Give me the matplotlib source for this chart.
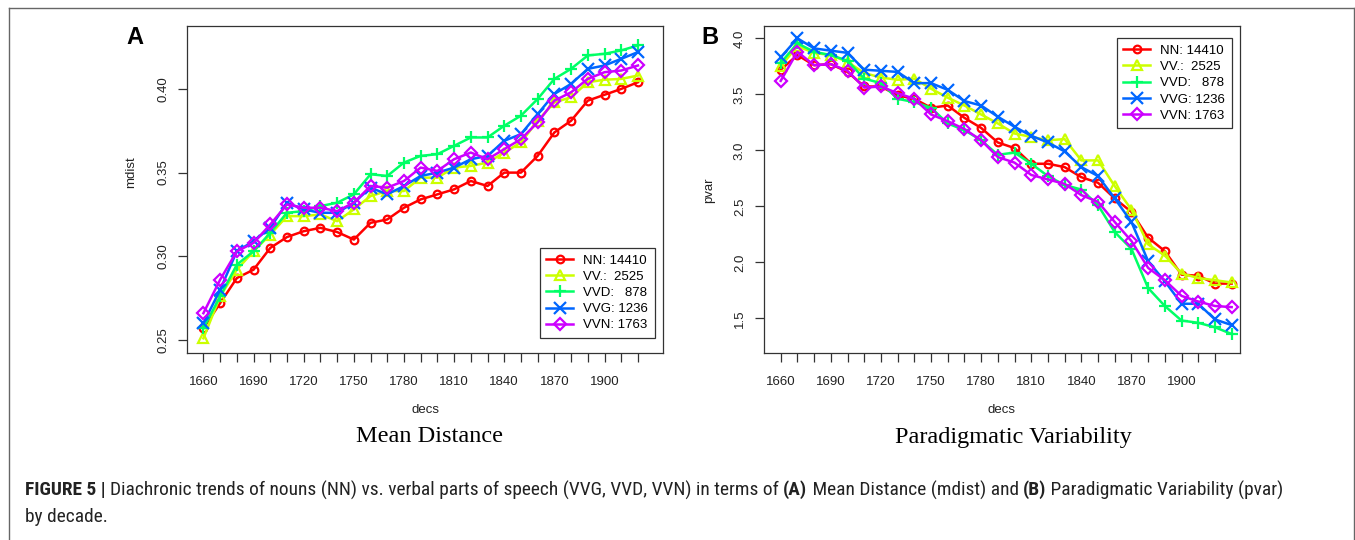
import matplotlib
matplotlib.use("Agg")
import matplotlib.pyplot as plt
from matplotlib.lines import Line2D
from matplotlib import font_manager

# ---------------- data ----------------
decades_A = list(range(1660, 1921, 10))   # 27 decades
decades_B = list(range(1660, 1931, 10))   # 28 decades

series_names = ["NN: 14410", "VV.:  2525", "VVD:   878", "VVG: 1236", "VVN: 1763"]

mdist_NN  = [0.257, 0.272, 0.287, 0.292, 0.305, 0.3115, 0.315, 0.317, 0.3145, 0.310, 0.320, 0.322, 0.329, 0.334,
             0.337, 0.340, 0.345, 0.342, 0.350, 0.350, 0.360, 0.374, 0.381, 0.393, 0.3965, 0.400, 0.404]
mdist_VV  = [0.251, 0.276, 0.292, 0.303, 0.313, 0.324, 0.324, 0.325, 0.321, 0.328, 0.336, 0.339, 0.339, 0.347,
             0.347, 0.353, 0.354, 0.356, 0.362, 0.368, 0.381, 0.392, 0.395, 0.404, 0.4055, 0.406, 0.408]
mdist_VVD = [0.257, 0.276, 0.295, 0.303, 0.314, 0.326, 0.327, 0.330, 0.332, 0.337, 0.349, 0.348, 0.356, 0.360,
             0.361, 0.366, 0.371, 0.371, 0.378, 0.384, 0.394, 0.406, 0.412, 0.420, 0.421, 0.423, 0.426]
mdist_VVG = [0.260, 0.280, 0.303, 0.309, 0.317, 0.332, 0.328, 0.326, 0.326, 0.332, 0.341, 0.337, 0.342, 0.348,
             0.350, 0.353, 0.358, 0.360, 0.369, 0.373, 0.385, 0.397, 0.403, 0.412, 0.414, 0.418, 0.422]
mdist_VVN = [0.266, 0.286, 0.303, 0.308, 0.319, 0.331, 0.329, 0.329, 0.327, 0.332, 0.342, 0.341, 0.345, 0.353,
             0.351, 0.358, 0.362, 0.358, 0.364, 0.370, 0.380, 0.393, 0.398, 0.406, 0.410, 0.411, 0.414]

pvar_NN  = [3.72, 3.85, 3.76, 3.77, 3.70, 3.57, 3.57, 3.49, 3.46, 3.38, 3.40, 3.29, 3.20, 3.07,
            3.02, 2.88, 2.88, 2.85, 2.76, 2.71, 2.57, 2.45, 2.22, 2.10, 1.89, 1.88, 1.81, 1.81]
pvar_VV  = [3.75, 3.93, 3.87, 3.85, 3.79, 3.69, 3.65, 3.63, 3.64, 3.55, 3.47, 3.40, 3.32, 3.24,
            3.15, 3.12, 3.09, 3.10, 2.91, 2.91, 2.68, 2.47, 2.16, 2.06, 1.90, 1.86, 1.84, 1.82]
pvar_VVD = [3.78, 3.955, 3.88, 3.85, 3.80, 3.64, 3.60, 3.46, 3.43, 3.38, 3.24, 3.18, 3.09, 2.96,
            2.98, 2.88, 2.77, 2.69, 2.65, 2.51, 2.27, 2.12, 1.77, 1.61, 1.48, 1.46, 1.42, 1.36]
pvar_VVG = [3.83, 4.00, 3.91, 3.89, 3.87, 3.72, 3.71, 3.70, 3.60, 3.60, 3.54, 3.44, 3.40, 3.30,
            3.21, 3.13, 3.07, 2.99, 2.85, 2.77, 2.57, 2.36, 2.01, 1.83, 1.63, 1.63, 1.49, 1.44]
pvar_VVN = [3.62, 3.88, 3.76, 3.77, 3.71, 3.56, 3.57, 3.51, 3.46, 3.32, 3.26, 3.19, 3.09, 2.94,
            2.89, 2.78, 2.74, 2.70, 2.60, 2.54, 2.36, 2.19, 1.95, 1.84, 1.70, 1.65, 1.61, 1.60]

xtick_minor = list(range(1660, 1921, 10))
xtick_labels = list(range(1660, 1901, 30))
ytick_A = [0.25, 0.30, 0.35, 0.40]
ytick_B = [1.5, 2.0, 2.5, 3.0, 3.5, 4.0]

# ---------------- style ----------------
colors = ["#FF0000", "#CCFF00", "#00FF66", "#0066FF", "#CC00FF"]
markers = ["o", "^", "+", "x", "D"]
msizes = [5.5, 7, 9, 8, 6.5]

W, H = 1355, 540
fig = plt.figure(figsize=(W / 100, H / 100), dpi=100)
fig.patch.set_facecolor("white")
SANS = ["Liberation Sans", "DejaVu Sans"]
SERIF = ["Liberation Serif", "DejaVu Serif"]
plt.rcParams["font.family"] = SANS

def fx(px):
    return px / W

def fy(py):
    return 1 - py / H

def make_axes(left, right, top, bottom):
    return fig.add_axes([fx(left), fy(bottom), fx(right) - fx(left), fy(top) - fy(bottom)])

axA = make_axes(186.7, 663, 26, 352.7)
axB = make_axes(764, 1240, 26, 352.7)

def draw(ax, xs, data):
    handles = []
    for vals, c, m, ms, name in zip(data, colors, markers, msizes, series_names):
        mfc = "none" if m in ("o", "^", "D") else c
        h, = ax.plot(xs, vals, color=c, lw=1.8, marker=m, markersize=ms,
                     markerfacecolor=mfc, markeredgecolor=c, markeredgewidth=1.6,
                     label=name)
        handles.append(h)
    return handles

hA = draw(axA, decades_A, [mdist_NN, mdist_VV, mdist_VVD, mdist_VVG, mdist_VVN])
hB = draw(axB, decades_B, [pvar_NN, pvar_VV, pvar_VVD, pvar_VVG, pvar_VVN])

def style(ax, yticks, fmt, ylim, ypad):
    ax.set_xlim(1650, 1935)
    ax.set_ylim(*ylim)
    ax.set_xticks(xtick_minor)
    ax.set_xticklabels([str(d) if d in xtick_labels else "" for d in xtick_minor])
    ax.set_yticks(yticks)
    ax.set_yticklabels([fmt.format(v) for v in yticks], rotation=90, va="center")
    ax.tick_params(axis="both", direction="out", length=6.5, width=0.9, color="#333333",
                   labelsize=9.5, labelcolor="#222222")
    ax.tick_params(axis="x", pad=10)
    ax.tick_params(axis="y", pad=ypad)
    for s in ax.spines.values():
        s.set_color("#333333")
        s.set_linewidth(0.9)

style(axA, ytick_A, "{:.2f}", (0.2424, 0.4376), 6)
style(axB, ytick_B, "{:.1f}", (1.193, 4.11), 6.5)

def legend(ax, handles, loc, anchor):
    lg = ax.legend(handles=handles, loc=loc, bbox_to_anchor=anchor, fontsize=9.5,
                   frameon=True, fancybox=False, edgecolor="#333333", framealpha=1,
                   borderpad=0.5, labelspacing=0.3, handlelength=2.0, handletextpad=0.8,
                   borderaxespad=0, numpoints=1)
    lg.get_frame().set_linewidth(0.9)
    return lg

legend(axA, hA, "lower right", (0.983, 0.045))
legend(axB, hB, "upper right", (0.983, 0.963))

# axis labels, panel letters, subtitles
fig.text(fx(131), fy(172), "mdist", rotation=90, ha="center", va="center", fontsize=9.5, color="#222222")
fig.text(fx(709), fy(190), "pvar", rotation=90, ha="center", va="center", fontsize=9.5, color="#222222")
fig.text(fx(425), fy(410), "decs", ha="center", va="center", fontsize=9.5, color="#222222")
fig.text(fx(1002), fy(410), "decs", ha="center", va="center", fontsize=9.5, color="#222222")
fig.text(fx(135), fy(37), "A", ha="center", va="center", fontsize=17, fontweight="bold")
fig.text(fx(710), fy(37), "B", ha="center", va="center", fontsize=17, fontweight="bold")
fig.text(fx(430), fy(437), "Mean Distance", ha="center", va="center", fontsize=17.5, family=SERIF)
fig.text(fx(1013), fy(437), "Paradigmatic Variability", ha="center", va="center", fontsize=17.5, family=SERIF)

# frame (open at bottom)
frame_col = "#666666"
fig.add_artist(Line2D([fx(9), fx(9)], [fy(8), -0.05], transform=fig.transFigure, color=frame_col, lw=1))
fig.add_artist(Line2D([fx(1353.5), fx(1353.5)], [fy(8), -0.05], transform=fig.transFigure, color=frame_col, lw=1))
fig.add_artist(Line2D([fx(9), fx(1353.5)], [fy(8), fy(8)], transform=fig.transFigure, color=frame_col, lw=1))

# caption: prefer a condensed face if one is installed
names = {f.name for f in font_manager.fontManager.ttflist}
if "Liberation Sans Narrow" in names:
    CAP = ["Liberation Sans Narrow", "Liberation Sans"]
    STRETCH = "normal"
elif "Roboto Condensed" in names:
    CAP = ["Roboto Condensed", "Liberation Sans"]
    STRETCH = "normal"
elif any(f.name == "DejaVu Sans" and f.stretch == "condensed" for f in font_manager.fontManager.ttflist):
    CAP = ["DejaVu Sans"]
    STRETCH = "condensed"
else:
    CAP = ["Roboto", "Liberation Sans"]
    STRETCH = "normal"

pieces = [("FIGURE 5 | ", "bold"),
          ("Diachronic trends of nouns (NN) vs. verbal parts of speech (VVG, VVD, VVN) in terms of ", "normal"),
          ("(A)", "bold"), (" Mean Distance (mdist) and ", "normal"),
          ("(B)", "bold"), (" Paradigmatic Variability (pvar)", "normal")]

renderer = fig.canvas.get_renderer()

def place_caption(size):
    x = 25
    arts = []
    for txt, wt in pieces:
        t = fig.text(fx(x), fy(490), txt, ha="left", va="center", fontsize=size,
                     fontweight=wt, family=CAP, fontstretch=STRETCH, color="#222222")
        bb = t.get_window_extent(renderer)
        x += bb.width
        arts.append(t)
    return x, arts

end, arts = place_caption(12)
for a in arts:
    a.remove()
size = 12 * (1280 - 25) / (end - 25)
end, arts = place_caption(size)
fig.text(fx(25), fy(517), "by decade.", ha="left", va="center", fontsize=size, family=CAP,
         fontstretch=STRETCH, color="#222222")

fig.savefig("out.png", dpi=100, facecolor="white")
